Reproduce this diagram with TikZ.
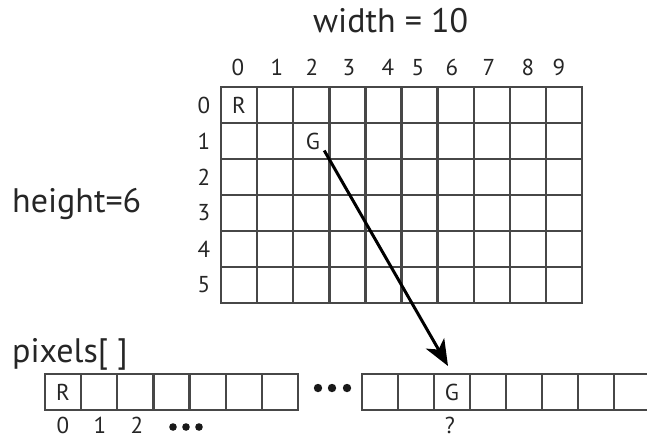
\documentclass[tikz,border=0pt]{standalone}
\usepackage{fontspec}
\setmainfont{PT Sans}
\usetikzlibrary{arrows.meta}
\tikzset{
	cellline/.style={black!72,line width=2.4pt},
	biglabel/.style={font=\fontsize{34}{40}\selectfont,text=black!85,inner sep=0pt},
	smalllabel/.style={font=\fontsize{23}{27}\selectfont,text=black!85,inner sep=0pt},
}
\begin{document}
\begin{tikzpicture}[>={Stealth[length=26pt,width=21pt,inset=7pt]},x=1pt,y=-1pt]
		\useasboundingbox[fill=white] (0,0) rectangle (647,440);
		\node[biglabel,anchor=base west] (wlabel) at (313,32) {width = 10};
		\node[biglabel,anchor=base west] (hlabel) at (12,212) {height=6};
		\node[biglabel,anchor=base west] (plabel) at (12,362) {pixels[ ]};
		\draw[cellline] (221,87) rectangle (582,303);
		\foreach \i in {1,...,9}
		\draw[cellline] ({221+36.1*\i},87)--++(0,216);
		\foreach \j in {1,...,5}
		\draw[cellline] (221,{87+36*\j})--++(361,0);
		\foreach \x [count=\i from 0] in {238,277,312,349,388,418,452,489,528,559}
		\node[smalllabel,anchor=base] (col\i) at (\x,75) {\i};
		\foreach \j in {0,...,5}
		\node[smalllabel] (row\j) at (204,{105+36*\j}) {\j};
		\node[smalllabel] (rgrid) at (239,105) {R};
		\node[smalllabel] (ggrid) at (313,141) {G};
		\draw[cellline] (45,374) rectangle (298,410);
		\foreach \i in {1,...,6}
		\draw[cellline] ({45+36.14*\i},374)--++(0,36);
		\draw[cellline] (647,374)--(362,374)--(362,410)--(647,410);
		\foreach \i in {1,...,7}
		\draw[cellline] ({362+36*\i},374)--++(0,36);
		\foreach \x in {318,332,347}
		\fill[black!90] (\x,388) circle (4.2pt);
		\node[smalllabel] (rarr) at (63,392) {R};
		\node[smalllabel] (garr) at (452,392) {G};
		\node[smalllabel] (idx0) at (63,425) {0};
		\node[smalllabel] (idx1) at (100,425) {1};
		\node[smalllabel] (idx2) at (137,425) {2};
		\foreach \x in {173,186,199}
		\fill[black!90] (\x,427) circle (3.8pt);
		\node[smalllabel] (qmark) at (450,425) {?};
		\coordinate (tip) at (448,366);
		\draw[->,line width=3pt,black] ([shift={(4,1)}]ggrid.south east)--(tip);
	\end{tikzpicture}
\end{document}
